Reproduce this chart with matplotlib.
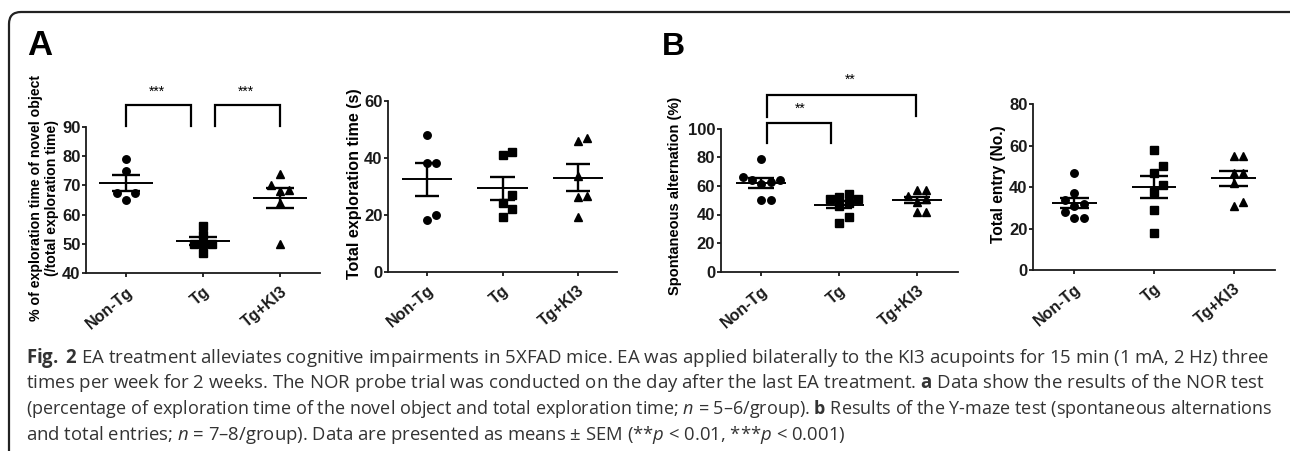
import matplotlib
matplotlib.use("Agg")
import matplotlib.pyplot as plt
import numpy as np
from matplotlib.patches import FancyBboxPatch

groups = ["Non-Tg", "Tg", "Tg+KI3"]
markers = ["o", "s", "^"]

# A: novel object recognition
nor_pct_nontg = [79, 75, 67.5, 67.5, 65]
nor_pct_tg = [56, 53, 50, 50, 50, 47]
nor_pct_ki3 = [74, 70, 68.5, 68, 64, 50]

nor_time_nontg = [48, 38, 38, 20, 18]
nor_time_tg = [42, 41, 27, 24, 22, 19]
nor_time_ki3 = [47, 46, 33.5, 26.5, 26, 19]

# B: Y-maze
alt_nontg = [79, 66, 64, 64, 63, 61, 50, 50]
alt_tg = [54, 52.5, 50.5, 50.5, 48, 46, 38.5, 34]
alt_ki3 = [57, 57, 53, 51, 49, 42, 42]

entry_nontg = [47, 37, 34, 32, 31, 28, 25, 25]
entry_tg = [58, 50, 47, 41, 37.5, 29, 18]
entry_ki3 = [55, 55, 47, 47, 42, 33, 31]

caption = [
    r"$\mathbf{Fig.}$ $\mathbf{2}$ EA treatment alleviates cognitive impairments in 5XFAD mice. EA was applied bilaterally to the KI3 acupoints for 15 min (1 mA, 2 Hz) three",
    r"times per week for 2 weeks. The NOR probe trial was conducted on the day after the last EA treatment. $\mathbf{a}$ Data show the results of the NOR test",
    r"(percentage of exploration time of the novel object and total exploration time; $n$ = 5–6/group). $\mathbf{b}$ Results of the Y-maze test (spontaneous alternations",
    r"and total entries; $n$ = 7–8/group). Data are presented as means ± SEM (**$p$ < 0.01, ***$p$ < 0.001)",
]
# right end (px) of each caption line in the reference; last line is not full
caption_ends = [1268, 1263, 1272, None]

plt.rcParams['font.family'] = ['Liberation Sans', 'DejaVu Sans']
plt.rcParams['mathtext.fontset'] = 'custom'
plt.rcParams['mathtext.rm'] = 'Open Sans:weight=normal'
plt.rcParams['mathtext.it'] = 'Open Sans:style=italic:weight=normal'
plt.rcParams['mathtext.bf'] = 'Open Sans:weight=bold'

W, H = 1290, 451
fig = plt.figure(figsize=(W / 100, H / 100), dpi=100)


def add_ax(l, t, r, b):
    return fig.add_axes([l / W, 1 - b / H, (r - l) / W, (b - t) / H])


def swarm(vals, px_x, px_y, d=9.3):
    vals = np.asarray(vals, float)
    placed = []
    offs = np.zeros(len(vals))
    for i in np.argsort(vals, kind="stable"):
        y = vals[i] * px_y
        for k in [0, 1, -1, 2, -2, 3, -3]:
            x = k * d
            if all((x - a) ** 2 + (y - b) ** 2 >= (0.92 * d) ** 2 for a, b in placed):
                break
        placed.append((x, y))
        offs[i] = x / px_x
    return offs


def panel(box, data, ylim, yticks, mean_w, sem_w):
    l, t, r, b = box
    ax = add_ax(l, t, r, b)
    xlim = (-0.52, 2.52)
    ax.set_xlim(*xlim)
    ax.set_ylim(*ylim)
    px_x = (r - l) / (xlim[1] - xlim[0])
    px_y = (b - t) / (ylim[1] - ylim[0])
    for i, vals in enumerate(data):
        vals = np.asarray(vals, float)
        offs = swarm(vals, px_x, px_y)
        ax.plot(i + offs, vals, markers[i], color="black", ms=5.4, ls="none",
                clip_on=False, zorder=3)
        m = vals.mean()
        s = vals.std(ddof=1) / np.sqrt(len(vals))
        ax.hlines(m, i - mean_w, i + mean_w, color="black", lw=1.4, zorder=4)
        ax.hlines([m - s, m + s], i - sem_w, i + sem_w, color="black", lw=1.7, zorder=4)
        ax.vlines(i, m - s, m + s, color="black", lw=1.7, zorder=4)
    for side in ["top", "right"]:
        ax.spines[side].set_visible(False)
    for side in ["left", "bottom"]:
        ax.spines[side].set_linewidth(1.3)
        ax.spines[side].set_color("#1a1a1a")
    ax.set_yticks(yticks)
    ax.set_yticklabels([str(v) for v in yticks], fontweight="bold", fontsize=12)
    ax.set_xticks(range(3))
    ax.set_xticklabels(groups, rotation=40, ha="right", va="top",
                       rotation_mode="anchor", fontweight="bold", fontsize=11.5)
    ax.tick_params(axis="both", direction="out", length=3.2, width=1.3,
                   colors="#1a1a1a")
    ax.tick_params(axis="y", pad=0.8)
    ax.tick_params(axis="x", pad=5)
    return ax


def bracket(ax, x0, x1, ytop, yl, yr, stars, sx, sy, size=10):
    ax.plot([x0, x0, x1, x1], [yl, ytop, ytop, yr], color="black", lw=1.6,
            clip_on=False, solid_joinstyle="miter")
    ax.text(sx, sy, stars, ha="center", va="center", fontsize=size,
            clip_on=False)


ax1 = panel((86, 127, 320, 273), [nor_pct_nontg, nor_pct_tg, nor_pct_ki3],
            (40, 90), range(40, 91, 10), 0.35, 0.18)
bracket(ax1, 0, 0.84, 97.4, 90.3, 90.3, "***", 0.4, 102.0)
bracket(ax1, 1.16, 2.0, 97.4, 90.3, 90.3, "***", 1.56, 102.0)

ax2 = panel((388, 100.7, 617, 271.5), [nor_time_nontg, nor_time_tg, nor_time_ki3],
            (0, 60), range(0, 61, 20), 0.335, 0.16)

ax3 = panel((720.7, 128.7, 957.7, 271.7), [alt_nontg, alt_tg, alt_ki3],
            (0, 100), range(0, 101, 20), 0.32, 0.17)
bracket(ax3, 0.07, 0.9, 103.7, 89.7, 89.7, "**", 0.5, 114.0)
bracket(ax3, 0.07, 1.99, 123.5, 108.4, 108.9, "**", 1.14, 134.0)

ax4 = panel((1033, 104.3, 1275, 270), [entry_nontg, entry_tg, entry_ki3],
            (0, 80), range(0, 81, 20), 0.28, 0.18)


def ftext(x, y, s, **kw):
    return fig.text(x / W, 1 - y / H, s, **kw)


ftext(44, 198, "% of exploration time of novel object\n(/total exploration time)",
      rotation=90, ha="center", va="center", fontsize=10.2, fontweight="bold",
      linespacing=1.25, multialignment="center")
ftext(355, 184, "Total exploration time (s)", rotation=90, ha="center",
      va="center", fontsize=11.6, fontweight="bold")
ftext(675, 196, "Spontaneous alternation (%)", rotation=90, ha="center",
      va="center", fontsize=10.5, fontweight="bold")
ftext(998, 184, "Total entry (No.)", rotation=90, ha="center", va="center",
      fontsize=11.2, fontweight="bold")

ftext(27, 55, "A", ha="left", va="baseline", fontsize=25, fontweight="bold")
ftext(662, 55, "B", ha="left", va="baseline", fontsize=23, fontweight="bold")

# caption: fit each full line to its width in the reference
renderer = fig.canvas.get_renderer()
x0 = 26
sizes = []
for k, line in enumerate(caption):
    t = ftext(x0, 363 + 25.5 * k, line, ha="left", va="baseline", fontsize=13.0,
              family="Open Sans", fontweight="normal", color="#333333")
    if caption_ends[k] is not None:
        w = t.get_window_extent(renderer).width
        fs = 13.0 * (caption_ends[k] - x0) / w
        t.set_fontsize(fs)
        sizes.append(fs)
    else:
        t.set_fontsize(np.mean(sizes))

frame = FancyBboxPatch((0.09, -0.4), 12.97, 4.39 + 0.4,
                       boxstyle="round,pad=0,rounding_size=0.12",
                       transform=fig.dpi_scale_trans, fill=False,
                       lw=1.6, edgecolor="#222222", clip_on=False)
fig.patches.append(frame)

fig.savefig("out.png", dpi=100)
